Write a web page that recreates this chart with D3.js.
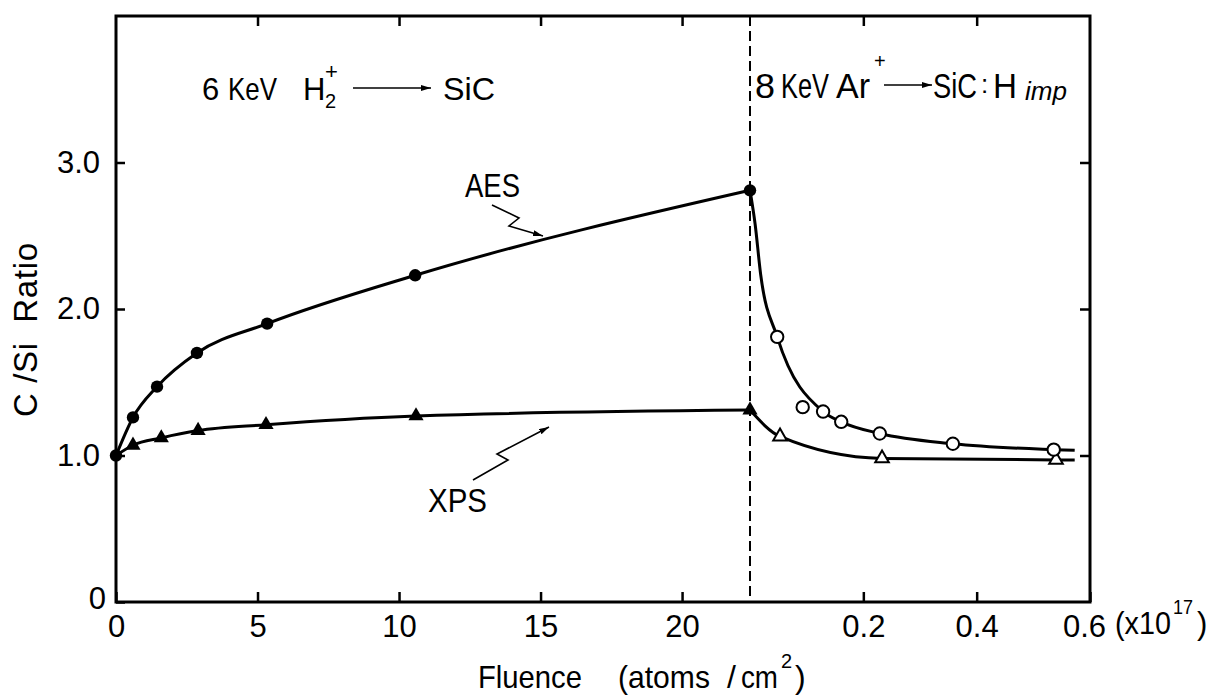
<!DOCTYPE html>
<html>
<head>
<meta charset="utf-8">
<script src="https://cdn.jsdelivr.net/npm/d3@7"></script>
<style>
  body { margin: 0; background: #fff; }
  svg { display: block; font-family: "Liberation Sans", Arial, sans-serif; }
  .axis text { font-size: 31px; fill: #000; }
  .axis line { stroke: #000; stroke-width: 2.5px; }
</style>
</head>
<body>
<svg id="chart" width="1219" height="698"></svg>
<script>
// fluence where the H2+ implant stops and the Ar+ sputter starts (left scale)
const breakFluence = 22.4;

// 6 KeV H2+ -> SiC (left part)
const aesImplantX = [0, 0.6, 1.45, 2.86, 5.34, 10.57, 22.4];
const aesImplantY = [1.00, 1.26, 1.47, 1.70, 1.90, 2.23, 2.81];
const xpsImplantX = [0, 0.6, 1.6, 2.9, 5.3, 10.6, 22.4];
const xpsImplantY = [1.00, 1.07, 1.12, 1.17, 1.21, 1.27, 1.31];

// 8 KeV Ar+ -> SiC:H (right part, x10^17)
const aesSputterX = [0.048, 0.093, 0.129, 0.161, 0.229, 0.358, 0.536];
const aesSputterY = [1.81, 1.33, 1.30, 1.23, 1.15, 1.08, 1.04];
const xpsSputterX = [0.053, 0.233, 0.540];
const xpsSputterY = [1.13, 0.98, 0.97];

// hand drawn curves on the right
const aesFitX = [0, 0.009, 0.019, 0.048, 0.129, 0.161, 0.229, 0.358, 0.536, 0.573];
const aesFitY = [2.81, 2.58, 2.23, 1.81, 1.30, 1.23, 1.15, 1.08, 1.04, 1.035];
const xpsFitX = [0, 0.053, 0.233, 0.540, 0.573];
const xpsFitY = [1.31, 1.13, 0.98, 0.97, 0.97];

const leftTicks = [0, 5, 10, 15, 20];
const rightTicks = [0.2, 0.4, 0.6];
const yTicks = [0, 1, 2, 3];

const zip = (xs, ys) => xs.map((x, i) => [x, ys[i]]);

const pLeft = 116, pRight = 1090, pTop = 16, pBottom = 602;

const svg = d3.select("#chart");

const x1 = d3.scaleLinear().domain([0, breakFluence]).range([pLeft, 750]);
const x2 = d3.scaleLinear().domain([0, 0.6]).range([750, pRight]);
const y = d3.scaleLinear().domain([0, 4]).range([pBottom, pTop]);

// arrow head
svg.append("defs").append("marker")
  .attr("id", "arrow")
  .attr("viewBox", "0 0 10 6")
  .attr("refX", 10).attr("refY", 3)
  .attr("markerWidth", 10).attr("markerHeight", 6)
  .attr("markerUnits", "userSpaceOnUse")
  .attr("orient", "auto")
  .append("path").attr("d", "M0,0L10,3L0,6Z").attr("fill", "#000");

// axes
const noDomain = g => g.select(".domain").remove();

svg.append("g").attr("class", "axis")
  .attr("transform", `translate(0,${pBottom})`)
  .call(d3.axisBottom(x1).tickValues(leftTicks).tickFormat(d3.format("d")).tickSize(-10).tickPadding(13))
  .call(noDomain);

svg.append("g").attr("class", "axis")
  .attr("transform", `translate(0,${pBottom})`)
  .call(d3.axisBottom(x2).tickValues(rightTicks).tickFormat(d3.format(".1f")).tickSize(-10).tickPadding(13))
  .call(noDomain)
  .call(g => g.selectAll(".tick").filter(d => d === 0.6).select("text").attr("dx", -6));

svg.append("g").attr("class", "axis")
  .attr("transform", `translate(0,${pTop})`)
  .call(d3.axisTop(x1).tickValues(leftTicks.slice(1)).tickFormat("").tickSize(-10))
  .call(noDomain);

svg.append("g").attr("class", "axis")
  .attr("transform", `translate(0,${pTop})`)
  .call(d3.axisTop(x2).tickValues(rightTicks.slice(0, 2)).tickFormat("").tickSize(-10))
  .call(noDomain);

svg.append("g").attr("class", "axis")
  .attr("transform", `translate(${pLeft},0)`)
  .call(d3.axisLeft(y).tickValues(yTicks).tickFormat(d => d === 0 ? "0" : d3.format(".1f")(d)).tickSize(-9).tickPadding(16))
  .call(noDomain)
  .call(g => g.selectAll(".tick").filter(d => d === 0).select("text").attr("x", -10).attr("dy", "0.2em"));

svg.append("g").attr("class", "axis")
  .attr("transform", `translate(${pRight},0)`)
  .call(d3.axisRight(y).tickValues(yTicks.slice(1)).tickFormat("").tickSize(-10))
  .call(noDomain);

// frame
svg.append("rect")
  .attr("x", pLeft).attr("y", pTop)
  .attr("width", pRight - pLeft).attr("height", pBottom - pTop)
  .attr("fill", "none").attr("stroke", "#000").attr("stroke-width", 3);

// break between the two stages
svg.append("line")
  .attr("x1", x1(breakFluence)).attr("x2", x1(breakFluence))
  .attr("y1", pTop).attr("y2", pBottom)
  .attr("stroke", "#000").attr("stroke-width", 2)
  .attr("stroke-dasharray", "10,5");

// curves
const lineL = d3.line().x(d => x1(d[0])).y(d => y(d[1])).curve(d3.curveMonotoneX);
const lineR = d3.line().x(d => x2(d[0])).y(d => y(d[1])).curve(d3.curveMonotoneX);

[lineL(zip(aesImplantX, aesImplantY)), lineL(zip(xpsImplantX, xpsImplantY)),
 lineR(zip(aesFitX, aesFitY)), lineR(zip(xpsFitX, xpsFitY))].forEach(d => {
  svg.append("path").attr("d", d)
    .attr("fill", "none").attr("stroke", "#000").attr("stroke-width", 3);
});

// markers
const tri = d3.symbol(d3.symbolTriangle);

svg.selectAll(".xpsImp")
  .data(zip(xpsImplantX, xpsImplantY).filter(d => d[0] > 0))
  .join("path")
  .attr("transform", d => `translate(${x1(d[0])},${y(d[1])})`)
  .attr("d", tri.size(100)())
  .attr("fill", "#000");

svg.selectAll(".aesImp")
  .data(zip(aesImplantX, aesImplantY))
  .join("circle")
  .attr("cx", d => x1(d[0])).attr("cy", d => y(d[1]))
  .attr("r", 6.2).attr("fill", "#000");

svg.selectAll(".xpsSp")
  .data(zip(xpsSputterX, xpsSputterY))
  .join("path")
  .attr("transform", d => `translate(${x2(d[0])},${y(d[1])})`)
  .attr("d", tri.size(80)())
  .attr("fill", "#fff").attr("stroke", "#000").attr("stroke-width", 2);

svg.selectAll(".aesSp")
  .data(zip(aesSputterX, aesSputterY))
  .join("circle")
  .attr("cx", d => x2(d[0])).attr("cy", d => y(d[1]))
  .attr("r", 6.2).attr("fill", "#fff").attr("stroke", "#000").attr("stroke-width", 2);

// texts, squeezed sideways to the width seen in the figure
function label(x, yy, s, size, len, italic) {
  const t = svg.append("text")
    .attr("font-size", size)
    .attr("font-style", italic ? "italic" : null)
    .style("white-space", "pre")
    .text(s);
  const sx = len ? len / t.node().getComputedTextLength() : 1;
  t.attr("transform", `translate(${x},${yy}) scale(${sx},1)`);
  return t;
}

// 6 KeV H2+ -> SiC
label(202, 100, "6", 31);
label(228, 100, "KeV", 31, 49);
label(303, 100, "H", 31);
label(325, 108, "2", 20);
label(325, 79, "+", 22);
label(443, 100, "SiC", 31, 52);

// 8 KeV Ar+ -> SiC:H imp
label(755, 98, "8", 35, 20);
label(781, 98, "KeV", 35, 48);
label(836, 98, "Ar", 35, 34);
label(874, 68, "+", 20);
label(933, 98, "SiC", 35, 44);
label(981, 93, ":", 26);
label(993, 98, "H", 35, 24);
label(1025, 100, "imp", 26, 42, true);

const arrowLine = pts => svg.append("path")
  .attr("d", d3.line()(pts))
  .attr("fill", "none").attr("stroke", "#000").attr("stroke-width", 1.6)
  .attr("marker-end", "url(#arrow)");

arrowLine([[353, 88], [431, 88]]);
arrowLine([[884, 85], [932, 85]]);

// curve labels
label(465, 197, "AES", 33, 55);
arrowLine([[492, 205], [519, 218], [509, 226], [543, 236]]);
label(428, 512, "XPS", 33, 59);
arrowLine([[473, 480], [508, 460], [497, 454], [549, 427]]);

// axis titles
svg.append("text")
  .attr("transform", "translate(37,330) rotate(-90)")
  .attr("text-anchor", "middle")
  .attr("font-size", 33)
  .attr("textLength", 174).attr("lengthAdjust", "spacing")
  .style("white-space", "pre")
  .text("C /Si  Ratio");

label(478, 688, "Fluence", 32, 104);
label(618, 688, "(atoms", 32, 92);
label(727, 688, "/", 32);
label(741, 688, "cm", 32, 37);
label(781, 668, "2", 20);
label(795, 688, ")", 32);

label(1115, 634, "(x10", 31, 56);
label(1173, 614, "17", 20, 20);
label(1197, 634, ")", 31);
</script>
</body>
</html>
